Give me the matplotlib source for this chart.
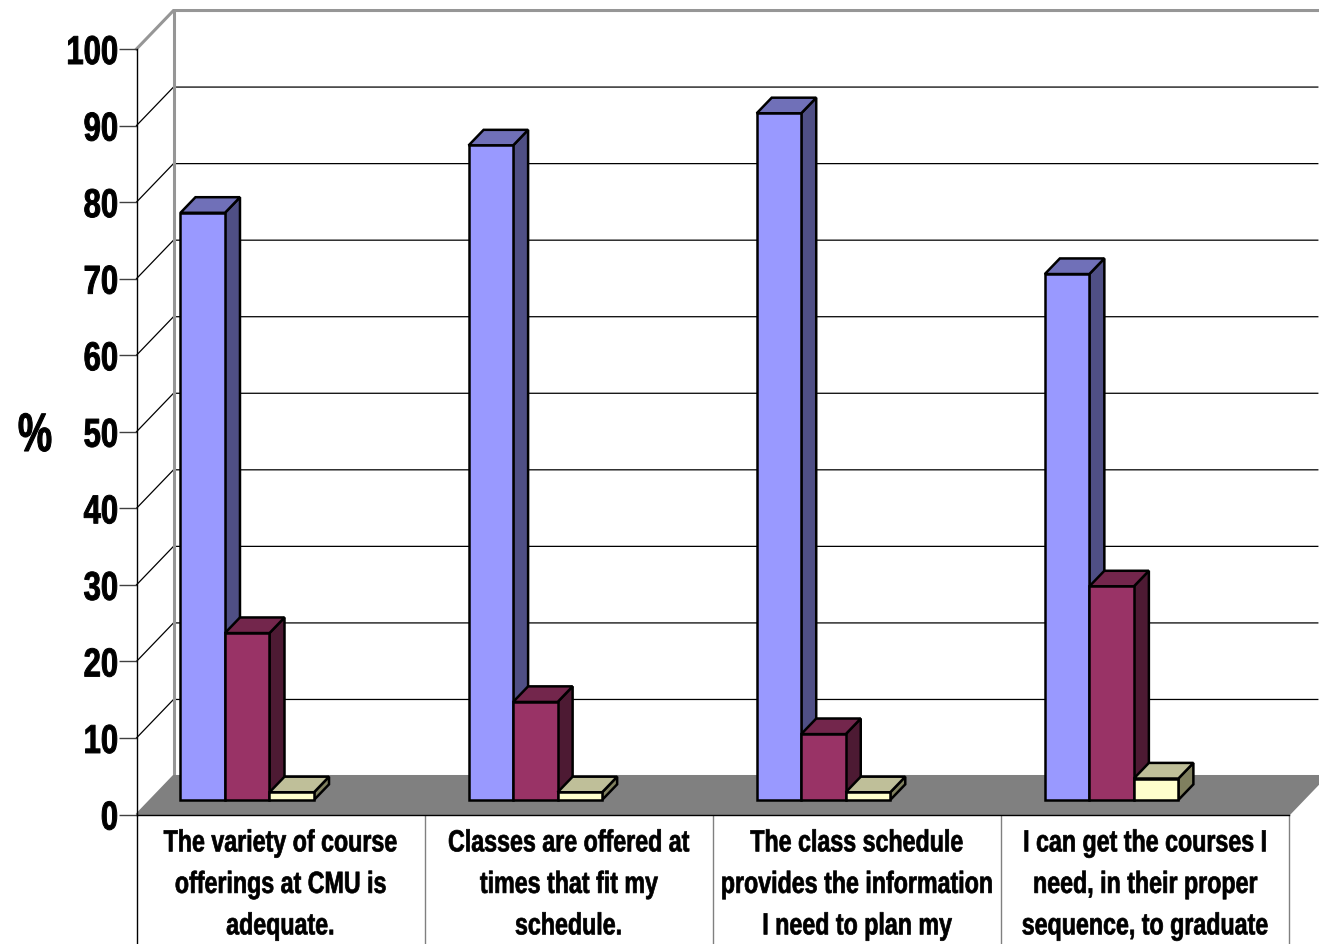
import matplotlib
matplotlib.use('Agg')
import matplotlib.pyplot as plt
import matplotlib.patheffects as pe
from matplotlib.transforms import Affine2D
import numpy as np

categorias = [
    'The variety of course\nofferings at CMU is\nadequate.',
    'Classes are offered at\ntimes that fit my\nschedule.',
    'The class schedule\nprovides the information\nI need to plan my',
    'I can get the courses I\nneed, in their proper\nsequence, to graduate',
]
serie_a = [76.7, 85.5, 89.7, 68.7]
serie_b = [21.8, 12.8, 8.6, 27.9]
serie_c = [1.0, 1.0, 1.0, 2.8]
ticks_y = list(range(0, 101, 10))

plt.rcParams['font.family'] = ['Liberation Sans', 'DejaVu Sans']
plt.rcParams['font.weight'] = 'bold'


class Estreita(pe.AbstractPathEffect):
    # a fonte estreita nao esta instalada, entao comprime o texto na horizontal
    def __init__(self, fator, ancora='center', traco=0.5):
        super().__init__()
        self.fator = fator
        self.ancora = ancora
        self.traco = traco

    def draw_path(self, renderer, gc, tpath, affine, rgbFace=None):
        ext = tpath.get_extents()
        ref = ext.x1 if self.ancora == 'right' else (ext.x0 + ext.x1) / 2
        t = Affine2D().translate(-ref, 0).scale(self.fator, 1).translate(ref, 0) + affine
        gc.set_linewidth(self.traco)
        renderer.draw_path(gc, tpath, t, rgbFace)


W, H = 1319, 944
fig = plt.figure(figsize=(W / 100, H / 100), dpi=100)
# eixo = plano frontal do grafico
ax = fig.add_axes([136.5 / W, (H - 814.5) / H, 1152.5 / W, 765.5 / H])
ax.set_xlim(0, 4)
ax.set_ylim(0, 100)
ax.patch.set_visible(False)

px_x = 4 / 1152.5
px_y = 100 / 765.5


def proj(x, y, d):
    # desloca um ponto para o fundo, d em pixels
    return x + d * px_x, y + d * 1.04 * px_y


def face(pts, cor, lw=1.8, ec='black', z=3):
    xs, ys = zip(*pts)
    ax.fill(xs, ys, facecolor=cor, edgecolor=ec, linewidth=lw, clip_on=False,
            joinstyle='miter', zorder=z)


# parede do fundo e chao
fundo = 37
x_fim = 4.1
for v in ticks_y[1:]:
    cor, lw = ('#969696', 2.2) if v == 100 else ('black', 0.9)
    xa, ya = proj(0, v, 0)
    xb, yb = proj(0, v, fundo)
    ax.plot([xa, xb, x_fim], [ya, yb, yb], color=cor, lw=lw, clip_on=False, zorder=1,
            solid_joinstyle='miter')
x0, y0 = proj(0, 0, fundo)
x1, y1 = proj(0, 100, fundo)
ax.plot([x0, x1], [y0, y1], color='#969696', lw=2.2, clip_on=False, zorder=1)
face([(0, 0), proj(0, 0, fundo), proj(4, 0, fundo), (4, 0)], '#808080', lw=1.5, ec='#808080', z=2)

# barras 3D
esq = 0.104
larg = 0.1545
prof = 15
cores = [
    (serie_a, '#9999FF', '#7070B8', '#4F4F85'),
    (serie_b, '#993366', '#73264C', '#4D1A33'),
    (serie_c, '#FFFFCC', '#BFBF99', '#80805F'),
]
for i in range(len(categorias)):
    for j, (valores, cor, cor_topo, cor_lado) in enumerate(cores):
        v = valores[i]
        xa = i + esq + j * larg
        xb = xa + larg
        d0 = 14
        d1 = d0 + prof
        face([proj(xb, 0, d0), proj(xb, 0, d1), proj(xb, v, d1), proj(xb, v, d0)], cor_lado, z=3 + j)
        face([proj(xa, v, d0), proj(xa, v, d1), proj(xb, v, d1), proj(xb, v, d0)], cor_topo, z=3 + j)
        bx, by = proj(xa, 0, d0)
        ax.bar(bx, v, larg, bottom=by, align='edge', color=cor, edgecolor='black',
               linewidth=1.8, clip_on=False, zorder=3 + j)

# tabela das categorias
for k in range(5):
    cor = 'black' if k == 0 else '#808080'
    ax.plot([k, k], [0, -20], color=cor, lw=1, clip_on=False, zorder=2)

for lado in ['top', 'right']:
    ax.spines[lado].set_visible(False)
ax.spines['left'].set_linewidth(1)
ax.spines['bottom'].set_linewidth(1)
ax.spines['left'].set_zorder(2)

ax.set_yticks(ticks_y)
ax.tick_params(axis='y', length=13, width=1, color='#404040', labelsize=29, pad=0)
ax.set_xticks(np.arange(4) + 0.5)
ax.set_xticklabels(categorias, fontsize=22, linespacing=1.5)
ax.tick_params(axis='x', length=0, pad=10)
for t in ax.get_yticklabels():
    t.set_path_effects([Estreita(0.77, 'right', 0.7)])
for t in ax.get_xticklabels():
    t.set_path_effects([Estreita(0.76)])
ax.set_ylabel('%', rotation=0, fontsize=39, fontweight='bold', labelpad=0,
              path_effects=[Estreita(0.71, 'center', 0.8)])
ax.yaxis.set_label_coords((35 - 136.5) / 1152.5, (814.5 - 437) / 765.5)
ax.yaxis.label.set_verticalalignment('center')
ax.yaxis.label.set_horizontalalignment('center')

fig.savefig('out.png', dpi=100, facecolor='white')
